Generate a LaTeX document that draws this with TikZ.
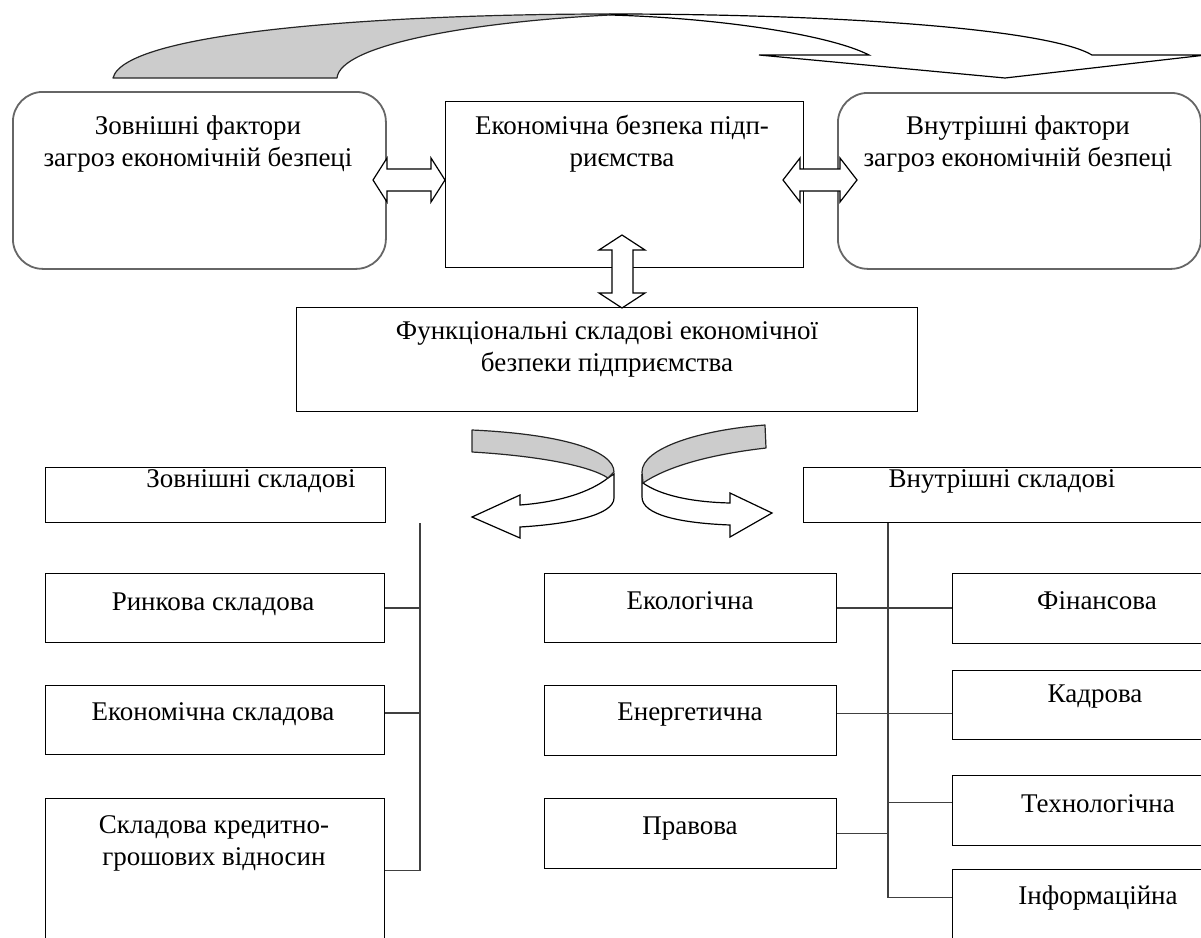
\documentclass[tikz,border=0pt]{standalone}
\usepackage{fontspec}
\setmainfont{Liberation Serif}
\begin{document}
\begin{tikzpicture}[x=1pt,y=-1pt,
  box/.style={draw=black, line width=1.3pt, fill=white, inner sep=0pt, anchor=north west},
  rbox/.style={draw=black!60, line width=1.8pt, fill=white, rounded corners=30pt, inner sep=0pt, anchor=north west},
  txt/.style={font=\fontsize{27}{32}\selectfont, align=center, inner sep=0pt},
  txtone/.style={font=\fontsize{27}{32}\selectfont, inner sep=0pt, text height=19pt, text depth=6pt},
  conn/.style={draw=black!75, line width=1.5pt},
  arr/.style={draw=black, line width=1.2pt, fill=white, line join=miter},
  band/.style={draw=black!85, line width=1.2pt, fill=black!20, line join=round}]
\useasboundingbox (0,0) rectangle (1201,937);
\clip (0,0) rectangle (1201,937);

% top boxes
\node[rbox, minimum width=373pt, minimum height=177pt] (lf) at (12,91) {};
\node[box, minimum width=358pt, minimum height=166pt] (eb) at (445,101) {};
\node[rbox, minimum width=363pt, minimum height=176pt] (rf) at (837,92) {};
\node[box, minimum width=621pt, minimum height=104pt] (fs) at (296,307) {};

% lower boxes
\node[box, minimum width=340pt, minimum height=55pt] (zs) at (45,467) {};
\node[box, minimum width=400pt, minimum height=55pt] (vs) at (803,467) {};
\node[box, minimum width=339pt, minimum height=69pt] (rk) at (45,573) {};
\node[box, minimum width=339pt, minimum height=69pt] (ek) at (45,685) {};
\node[box, minimum width=339pt, minimum height=144pt] (kg) at (45,798) {};
\node[box, minimum width=292pt, minimum height=69pt] (eko) at (544,573) {};
\node[box, minimum width=292pt, minimum height=70pt] (ene) at (544,685) {};
\node[box, minimum width=292pt, minimum height=70pt] (pra) at (544,798) {};
\node[box, minimum width=300pt, minimum height=70pt] (fin) at (952,573) {};
\node[box, minimum width=300pt, minimum height=69pt] (kad) at (952,670) {};
\node[box, minimum width=300pt, minimum height=70pt] (teh) at (952,775) {};
\node[box, minimum width=300pt, minimum height=100pt] (inf) at (952,869) {};

% texts
\node[txt] (tlf) at (198,144) {Зовнішні фактори\\загроз економічній безпеці};
\node[txt] (teb) at (622,144) {Економічна безпека підп-\\риємства};
\node[txt] (trf) at (1018,144) {Внутрішні фактори\\загроз економічній безпеці};
\node[txt] (tfs) at (607,349) {Функціональні складові економічної\\безпеки підприємства};
\node[txtone] (tzs) at (251,481) {Зовнішні складові};
\node[txtone] (tvs) at (1002,481) {Внутрішні складові};
\node[txtone] (trk) at (213,604) {Ринкова складова};
\node[txtone] (tek) at (213,714) {Економічна складова};
\node[txt] (tkg) at (214,843) {Складова кредитно-\\грошових відносин};
\node[txtone] (teko) at (690,603) {Екологічна};
\node[txtone] (tene) at (690,714) {Енергетична};
\node[txtone] (tpra) at (690,828) {Правова};
\node[txtone] (tfin) at (1097,603) {Фінансова};
\node[txtone] (tkad) at (1095,696) {Кадрова};
\node[txtone] (tteh) at (1098,806) {Технологічна};
\node[txtone] (tinf) at (1098,898) {Інформаційна};

% connectors left
\coordinate (lt) at (420,0);
\coordinate (rt) at (888,0);
\draw[conn] (zs.south -| lt) |- (kg.east);
\draw[conn] (rk.east) -- (rk.east -| lt);
\draw[conn] ([yshift=7pt]ek.east) -- ([yshift=7pt]ek.east -| lt);
% connectors right
\draw[conn] (vs.south -| rt) |- ([yshift=22pt]inf.west);
\draw[conn] (eko.east) -- (eko.east -| fin.west);
\draw[conn] ([yshift=7pt]ene.east) -- ([yshift=7pt]ene.east -| kad.west);
\draw[conn] ([yshift=8pt]teh.west -| rt) -- ([yshift=8pt]teh.west);
\draw[conn] (pra.east) -- (pra.east -| rt);

% double arrows
\draw[arr] (373,180) -- (387,158) -- (387,169) -- (431,169) -- (431,158) -- (445,180)
  -- (431,202) -- (431,191) -- (387,191) -- (387,202) -- cycle;
\draw[arr] (783,180) -- (800,158) -- (800,169) -- (840,169) -- (840,158) -- (857,180)
  -- (840,202) -- (840,191) -- (800,191) -- (800,202) -- cycle;
\draw[arr] (622,235) -- (599,250) -- (612,250) -- (612,293) -- (599,293) -- (622,308)
  -- (645,293) -- (633,293) -- (633,250) -- (645,250) -- cycle;

% top curved arrow
\draw[arr] (610,14) .. controls (850,14) and (1050,30) .. (1092,55) -- (1206,55) -- (1005,78)
  -- (759,55) -- (869,55) .. controls (830,35) and (720,18) .. (610,15) -- cycle;
\draw[band] (113,78) .. controls (125,30) and (400,14) .. (610,14) -- (610,15)
  .. controls (470,22) and (340,45) .. (337,78) -- cycle;

% middle left curved arrow
\draw[arr] (608,478) .. controls (590,492) and (560,502) .. (520,505) -- (520,495) -- (472,517)
  -- (520,538) -- (520,527) .. controls (570,524) and (614,515) .. (614,498) -- (614,474) -- cycle;
\draw[band] (472,430) .. controls (560,434) and (614,450) .. (614,472) -- (608,478)
  .. controls (590,466) and (540,456) .. (472,452) -- cycle;

% middle right curved arrow
\draw[arr] (643,483) .. controls (660,495) and (690,502) .. (730,503) -- (730,493) -- (772,513)
  -- (730,537) -- (730,525) .. controls (680,523) and (642,515) .. (642,497) -- (642,474) -- cycle;
\draw[band] (765,425) .. controls (700,430) and (642,448) .. (642,472) -- (643,483)
  .. controls (665,468) and (705,455) .. (766,448) -- cycle;
\end{tikzpicture}
\end{document}
